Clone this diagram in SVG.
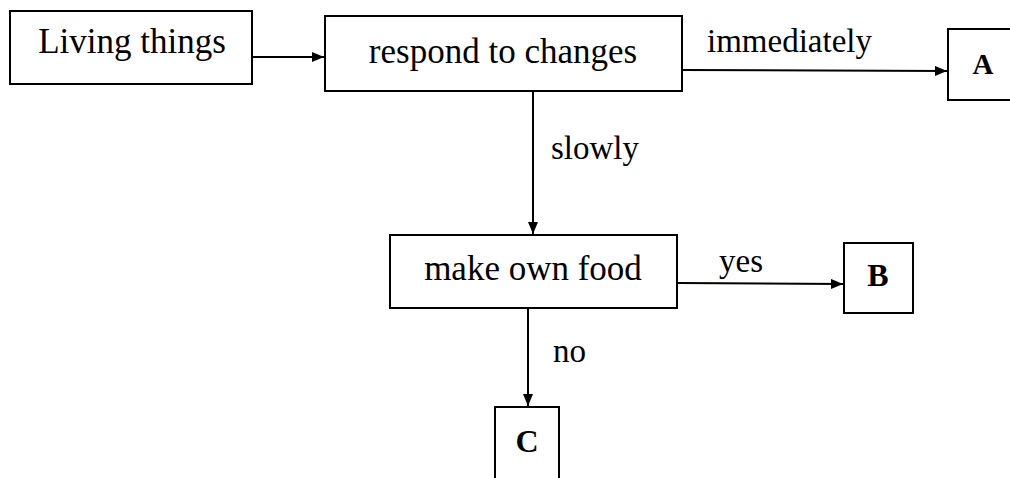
<svg xmlns="http://www.w3.org/2000/svg" width="1010" height="478" viewBox="0 0 1010 478">
<style>
.box{fill:#fff;stroke:#000;stroke-width:2}
.t{font-family:"Liberation Serif","Times New Roman",serif;font-size:35px;fill:#000;text-anchor:middle}
.letter{font-family:"Liberation Serif","Times New Roman",serif;font-size:32px;font-weight:bold;fill:#000;text-anchor:middle}
.lbl{font-family:"Liberation Serif","Times New Roman",serif;font-size:33px;fill:#000}
.c{fill:none;stroke:#000;stroke-width:2}
</style>
<defs>
<marker id="ah" viewBox="0 0 12 10" refX="12" refY="5" markerWidth="12" markerHeight="10" markerUnits="userSpaceOnUse" orient="auto">
<path d="M0,0 L12,5 L0,10 Z" fill="#000"/>
</marker>
</defs>
<rect width="1010" height="478" fill="#fff"/>
<g id="connectors">
<line class="c" x1="252" y1="57" x2="324" y2="57" marker-end="url(#ah)"/>
<line class="c" x1="682" y1="70" x2="947" y2="71" marker-end="url(#ah)"/>
<text class="lbl" x="707" y="52">immediately</text>
<line class="c" x1="533" y1="91" x2="533" y2="234" marker-end="url(#ah)"/>
<text class="lbl" x="551" y="159">slowly</text>
<line class="c" x1="677" y1="283" x2="843" y2="284" marker-end="url(#ah)"/>
<text class="lbl" x="719" y="272">yes</text>
<line class="c" x1="528" y1="308" x2="528" y2="406" marker-end="url(#ah)"/>
<text class="lbl" x="553" y="362">no</text>
</g>
<g id="living">
<rect class="box" x="10" y="11" width="242" height="73"/>
<text class="t" x="132" y="53">Living things</text>
</g>
<g id="respond">
<rect class="box" x="325" y="16" width="357" height="75"/>
<text class="t" x="503" y="63">respond to changes</text>
</g>
<g id="nodeA">
<rect class="box" x="948" y="29" width="70" height="71"/>
<text class="letter" x="983" y="74" style="font-size:29px">A</text>
</g>
<g id="food">
<rect class="box" x="390" y="235" width="287" height="73"/>
<text class="t" x="533" y="280">make own food</text>
</g>
<g id="nodeB">
<rect class="box" x="844" y="243" width="69" height="70"/>
<text class="letter" x="878" y="286">B</text>
</g>
<g id="nodeC">
<rect class="box" x="495" y="407" width="64" height="80"/>
<text class="letter" x="527" y="452">C</text>
</g>
</svg>
